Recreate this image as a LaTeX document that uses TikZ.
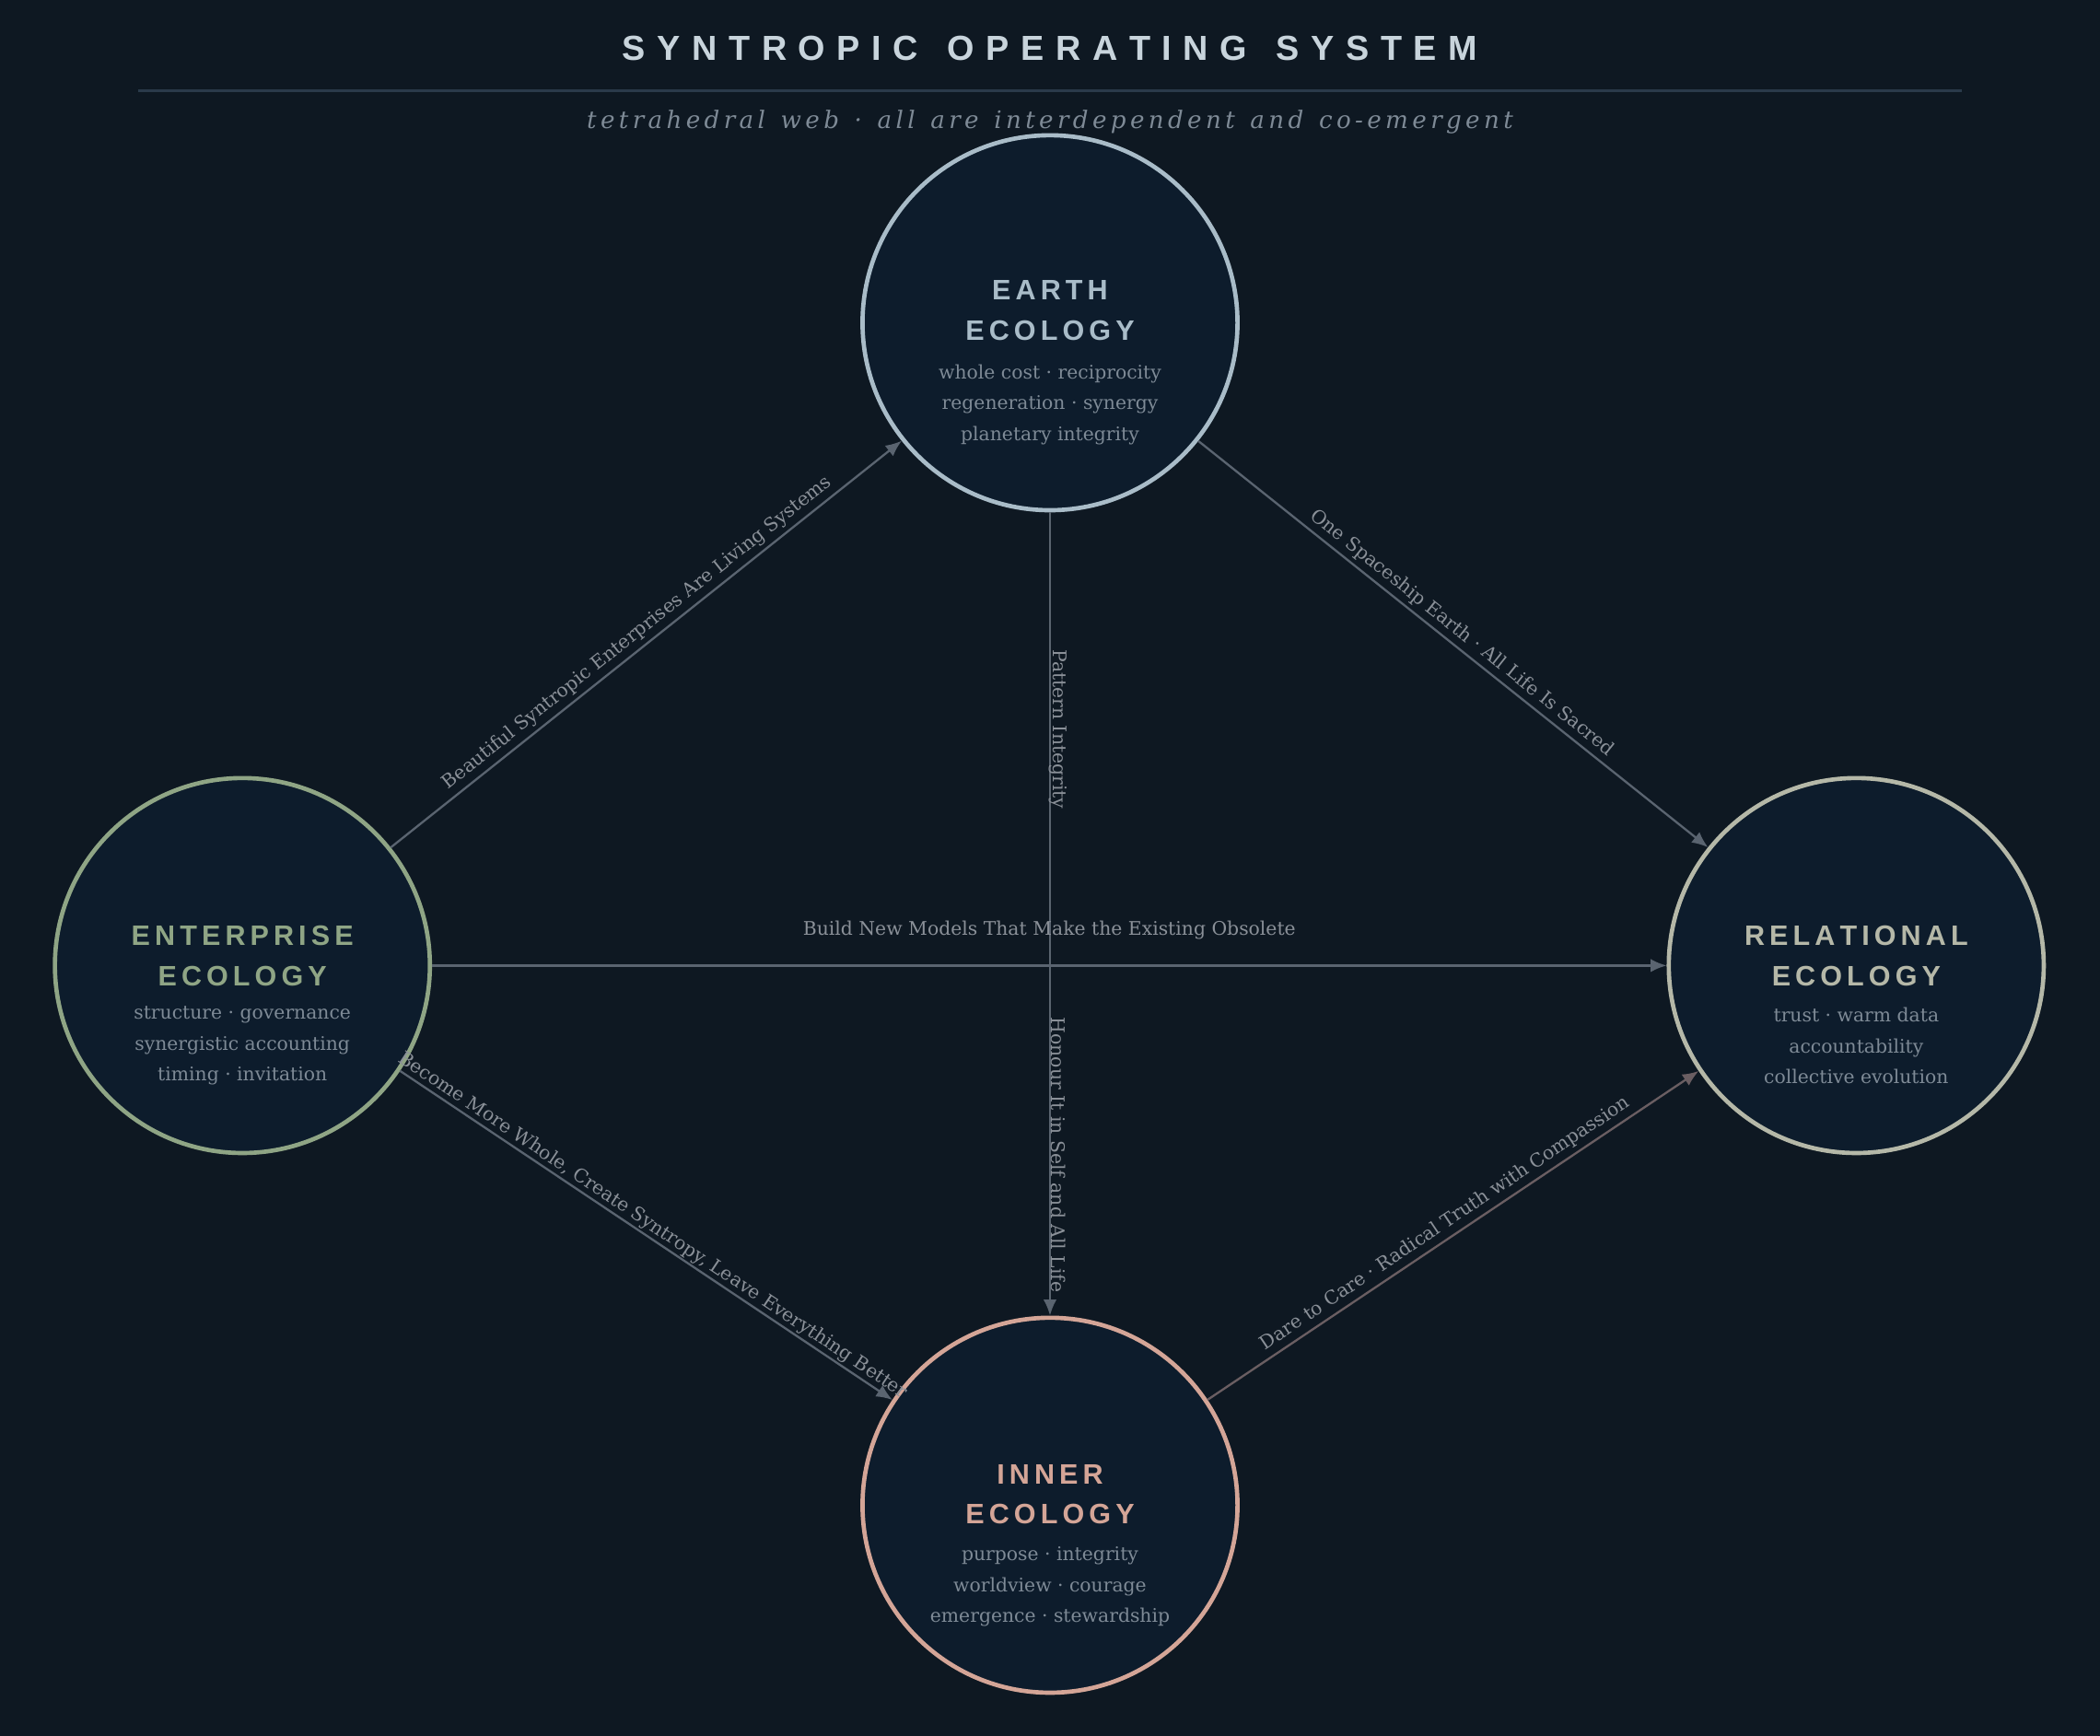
\documentclass[tikz,border=0pt]{standalone}
\usepackage{fontspec}
\setmainfont{DejaVu Serif}
\setsansfont{Liberation Sans}
\usetikzlibrary{arrows.meta}
\definecolor{bg}{HTML}{0E1822}
\definecolor{cfill}{HTML}{0D1C2C}
\definecolor{earthc}{HTML}{A9BCC8}
\definecolor{entc}{HTML}{8FA585}
\definecolor{relc}{HTML}{B5B8A8}
\definecolor{innc}{HTML}{D4A597}
\definecolor{txt}{HTML}{7E8A96}
\definecolor{edgec}{HTML}{5A6470}
\definecolor{lab}{HTML}{8A9098}
\definecolor{titlec}{HTML}{C8D4DC}
\definecolor{rule}{HTML}{2A3A4A}
\definecolor{warmedge}{HTML}{6A5E62}
\tikzset{
  eco/.style={circle,draw=#1,line width=1.6pt,fill=cfill,minimum size=140pt,inner sep=0pt},
  ttl/.style={font=\sffamily\bfseries\fontsize{10.5}{15}\selectfont,align=center,text=#1},
  sub/.style={font=\fontsize{7}{11.5}\selectfont,align=center,text=txt},
  conn/.style={draw=edgec,line width=0.8pt,-{Latex[length=6pt,width=5pt]}},
  elab/.style={font=\fontsize{7}{8}\selectfont,text=lab,sloped,inner sep=1.5pt}
}
\begin{document}
\begin{tikzpicture}[x=0.5pt,y=-0.5pt]
\fill[bg] (0,0) rectangle (1568,1296);
\useasboundingbox (0,0) rectangle (1568,1296);
\node[font=\sffamily\bfseries\fontsize{13}{16}\selectfont,text=titlec] (title) at (784,36) {S\,\,Y\,\,N\,\,T\,\,R\,\,O\,\,P\,\,I\,\,C\ \ \ O\,\,P\,\,E\,\,R\,\,A\,\,T\,\,I\,\,N\,\,G\ \ \ S\,\,Y\,\,S\,\,T\,\,E\,\,M};
\coordinate (l1) at (103,68); \coordinate (l2) at (1465,68);
\draw[rule,line width=1pt] (l1) -- (l2);
\node[font=\itshape\fontsize{9}{11}\selectfont,text=txt] (subt) at (784,91) {t\,e\,t\,r\,a\,h\,e\,d\,r\,a\,l\ \ w\,e\,b\ \ ·\ \ a\,l\,l\ \ a\,r\,e\ \ i\,n\,t\,e\,r\,d\,e\,p\,e\,n\,d\,e\,n\,t\ \ a\,n\,d\ \ c\,o\,-\,e\,m\,e\,r\,g\,e\,n\,t};

\node[eco=earthc] (earth) at (784,241) {};
\node[eco=entc] (ent) at (181,721) {};
\node[eco=relc] (rel) at (1386,721) {};
\node[eco=innc] (inn) at (784,1124) {};

\node[ttl=earthc] (et) at (784,232) {E\,A\,R\,T\,H\\E\,C\,O\,L\,O\,G\,Y};
\node[sub] (es) at (784,302) {whole cost · reciprocity\\regeneration · synergy\\planetary integrity};
\node[ttl=entc] (nt) at (181,714) {E\,N\,T\,E\,R\,P\,R\,I\,S\,E\\E\,C\,O\,L\,O\,G\,Y};
\node[sub] (ns) at (181,781) {structure · governance\\synergistic accounting\\timing · invitation};
\node[ttl=relc] (rt) at (1386,714) {R\,E\,L\,A\,T\,I\,O\,N\,A\,L\\E\,C\,O\,L\,O\,G\,Y};
\node[sub] (rs) at (1386,781) {trust · warm data\\accountability\\collective evolution};
\node[ttl=innc] (it) at (784,1116) {I\,N\,N\,E\,R\\E\,C\,O\,L\,O\,G\,Y};
\node[sub] (is) at (784,1185) {purpose · integrity\\worldview · courage\\emergence · stewardship};

\draw[conn] (ent) -- node[elab,above,pos=0.5]{Beautiful Syntropic Enterprises Are Living Systems} (earth);
\draw[conn] (earth) -- node[elab,above,pos=0.5]{One Spaceship Earth · All Life Is Sacred} (rel);
\draw[conn] (earth) -- node[elab,sloped=false,rotate=-90,pos=0.27,yshift=3pt]{Pattern Integrity}
                         node[elab,sloped=false,rotate=-90,pos=0.8,yshift=3pt]{Honour It in Self and All Life} (inn);
\draw[conn] (ent) -- node[elab,above,pos=0.5,yshift=8pt]{Build New Models That Make the Existing Obsolete} (rel);
\draw[conn] (ent) -- node[elab,above,pos=0.5,inner sep=0.5pt]{Become More Whole, Create Syntropy, Leave Everything Better} (inn);
\draw[conn,draw=warmedge] (inn) -- node[elab,above,pos=0.5]{Dare to Care · Radical Truth with Compassion} (rel);
\end{tikzpicture}
\end{document}
